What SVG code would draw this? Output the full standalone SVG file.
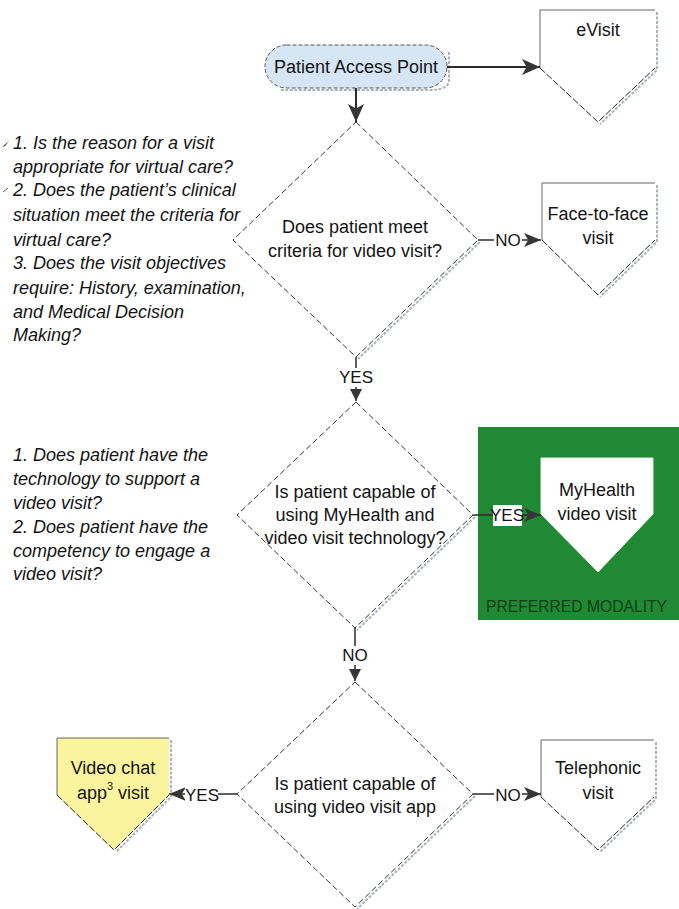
<svg xmlns="http://www.w3.org/2000/svg" width="679" height="909" viewBox="0 0 679 909">
<style>
text{font-family:"Liberation Sans",Arial,sans-serif;fill:#141414}
.nt{font-size:18px;text-anchor:middle;dominant-baseline:central}
.q{font-size:18px;font-style:italic}
.lab{font-size:17px;text-anchor:middle;dominant-baseline:central}
.dia{fill:#fff;stroke:#333;stroke-width:1;stroke-dasharray:6 3}
.pbody{fill:#fff;stroke:none}
.pedge{fill:none;stroke:#666;stroke-width:1}
.pdash{fill:none;stroke:#222;stroke-width:1;stroke-dasharray:7 2}
.sh{fill:none;stroke:#a9b3bd;stroke-width:2;stroke-dasharray:3 1.5}
.con{fill:none;stroke:#2b2b2b;stroke-width:2}
.lcon{fill:none;stroke:#2b2b2b;stroke-width:1.5}
.lbg{fill:#fff}
</style>
<defs>
<marker id="ab" viewBox="0 0 10 10" refX="10" refY="5" markerUnits="userSpaceOnUse" markerWidth="18" markerHeight="16" preserveAspectRatio="none" orient="auto">
<path d="M0,0 L10,5 L0,10 L2.5,5 Z" fill="#363636"/>
</marker>
<marker id="as" viewBox="0 0 10 10" refX="10" refY="5" markerUnits="userSpaceOnUse" markerWidth="17" markerHeight="14" preserveAspectRatio="none" orient="auto">
<path d="M0,0 L10,5 L0,10 L2.5,5 Z" fill="#363636"/>
</marker>
<marker id="at" viewBox="0 0 10 10" refX="10" refY="5" markerUnits="userSpaceOnUse" markerWidth="12" markerHeight="12" preserveAspectRatio="none" orient="auto">
<path d="M0,0 L10,5 L0,10 Z" fill="#363636"/>
</marker>
</defs>

<!-- side notes -->
<g id="notes1">
<path d="M2,147 L9,141 L5,146 Z" fill="#333"/>
<path d="M3,192 L8,188" stroke="#555" stroke-width="1"/>
<text class="q" x="13" y="149">1. Is the reason for a visit</text>
<text class="q" x="13" y="173">appropriate for virtual care?</text>
<text class="q" x="13" y="196">2. Does the patient’s clinical</text>
<text class="q" x="13" y="221">situation meet the criteria for</text>
<text class="q" x="13" y="246">virtual care?</text>
<text class="q" x="13" y="269">3. Does the visit objectives</text>
<text class="q" x="13" y="294">require: History, examination,</text>
<text class="q" x="13" y="318">and Medical Decision</text>
<text class="q" x="13" y="341">Making?</text>
</g>
<g id="notes2">
<text class="q" x="13" y="461">1. Does patient have the</text>
<text class="q" x="13" y="485">technology to support a</text>
<text class="q" x="13" y="509">video visit?</text>
<text class="q" x="13" y="533">2. Does patient have the</text>
<text class="q" x="13" y="557">competency to engage a</text>
<text class="q" x="13" y="580">video visit?</text>
</g>

<!-- preferred modality panel -->
<g id="preferred">
<rect x="478" y="427" width="201" height="193" fill="#1f8a33"/>
<text x="486" y="612" font-size="16" textLength="181" lengthAdjust="spacingAndGlyphs" style="fill:#123d18">PREFERRED MODALITY</text>
</g>

<!-- nodes -->
<g id="access">
<path class="sh" d="M449,52 V80 Q449,90 430,90 H280"/>
<rect x="265" y="45" width="182" height="43" rx="21.5" fill="#d6e6f4" stroke="#555" stroke-width="1" stroke-dasharray="4 2"/>
<text class="nt" x="356" y="67">Patient Access Point</text>
</g>

<g id="evisit">
<path class="sh" d="M657,12 V70 L600,124"/>
<path class="pbody" d="M540,10 H655 V68 L598,122 L540,68 Z"/>
<path class="pedge" d="M540,68 V10 H655"/>
<path class="pdash" d="M540,68 L598,122 L655,68"/>
<text class="nt" x="598" y="30">eVisit</text>
</g>

<g id="d1">
<path class="sh" d="M480,242 L358,359"/>
<polygon class="dia" points="356,122 478,240 356,357 233,240"/>
<text class="nt" x="355" y="227">Does patient meet</text>
<text class="nt" x="355" y="251">criteria for video visit?</text>
</g>

<g id="facetoface">
<path class="sh" d="M657,185 V242 L600,297"/>
<path class="pbody" d="M542,183 H655 V240 L598,295 L542,240 Z"/>
<path class="pedge" d="M542,240 V183 H655"/>
<path class="pdash" d="M542,240 L598,295 L655,240"/>
<text class="nt" x="598" y="214">Face-to-face</text>
<text class="nt" x="598" y="238">visit</text>
</g>

<g id="d2">
<path class="sh" d="M475,517 L357,630"/>
<polygon class="dia" points="356,402 473,515 355,628 237,515"/>
<text class="nt" x="355" y="492">Is patient capable of</text>
<text class="nt" x="355" y="515">using MyHealth and</text>
<text class="nt" x="355" y="538">video visit technology?</text>
</g>

<g id="myhealth">
<path d="M541,458 H653 V514 L598,572 L541,514 Z" fill="#fff" stroke="#e8f0e0" stroke-width="1"/>
<text class="nt" x="597" y="490">MyHealth</text>
<text class="nt" x="597" y="514">video visit</text>
</g>

<g id="d3">
<path class="sh" d="M475,796 L357,909"/>
<polygon class="dia" points="355,682 473,794 355,907 237,794"/>
<text class="nt" x="355" y="784">Is patient capable of</text>
<text class="nt" x="355" y="807">using video visit app</text>
</g>

<g id="videochat">
<path class="sh" d="M171,740 V797 L116,852"/>
<path d="M57,738 H169 V795 L114,850 L57,795 Z" fill="#fbf49e" stroke="none"/>
<path class="pedge" d="M57,795 V738 H169"/>
<path class="pdash" d="M57,795 L114,850 L169,795"/>
<text class="nt" x="113" y="768">Video chat</text>
<text class="nt" x="113" y="793">app<tspan font-size="11" dy="-7">3</tspan><tspan dy="7"> visit</tspan></text>
</g>

<g id="telephonic">
<path class="sh" d="M656,742 V799 L600,852"/>
<path class="pbody" d="M541,740 H654 V797 L598,850 L541,797 Z"/>
<path class="pedge" d="M541,797 V740 H654"/>
<path class="pdash" d="M541,797 L598,850 L654,797"/>
<text class="nt" x="598" y="768">Telephonic</text>
<text class="nt" x="598" y="793">visit</text>
</g>

<!-- connectors -->
<g id="connectors">
<path class="con" d="M447,67 H540" marker-end="url(#ab)"/>
<path class="con" d="M356,88 V122" marker-end="url(#ab)"/>

<path class="lcon" d="M478,240 H541" marker-end="url(#as)"/>
<rect class="lbg" x="494" y="231" width="28" height="18"/>
<text class="lab" x="508" y="240">NO</text>

<path class="lcon" d="M356,357 V401" marker-end="url(#at)"/>
<rect class="lbg" x="340" y="368" width="32" height="19"/>
<text class="lab" x="356" y="377">YES</text>

<path class="lcon" d="M473,515 H541" marker-end="url(#as)"/>
<rect class="lbg" x="493" y="505" width="29" height="21"/>
<text class="lab" x="507" y="515">YES</text>

<path class="lcon" d="M355,628 V681" marker-end="url(#at)"/>
<rect class="lbg" x="341" y="646" width="28" height="19"/>
<text class="lab" x="355" y="655">NO</text>

<path class="lcon" d="M237,794 H169" marker-end="url(#as)"/>
<rect class="lbg" x="185" y="785" width="33" height="19"/>
<text class="lab" x="202" y="795">YES</text>

<path class="lcon" d="M473,794 H541" marker-end="url(#as)"/>
<rect class="lbg" x="494" y="785" width="28" height="19"/>
<text class="lab" x="508" y="795">NO</text>
</g>
</svg>
